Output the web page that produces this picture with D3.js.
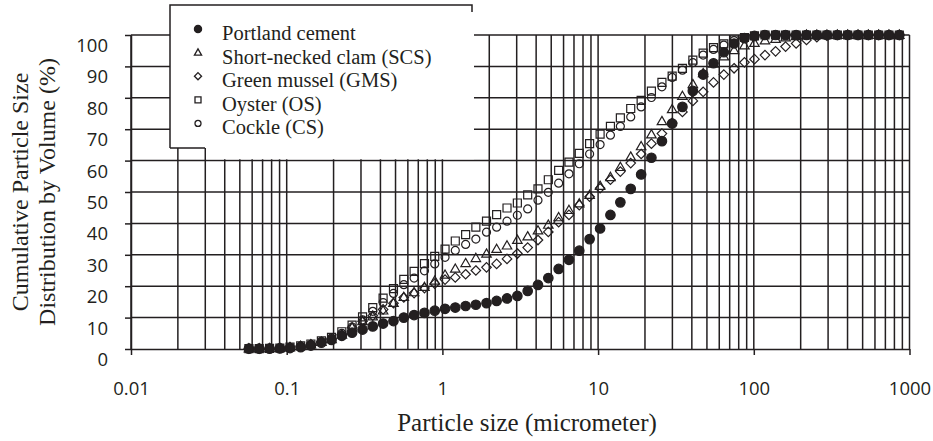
<!DOCTYPE html>
<html>
<head>
<meta charset="utf-8">
<script src="https://cdn.jsdelivr.net/npm/d3@7"></script>
<style>
body{margin:0;background:#fff;}
svg text{fill:#231f20;}
.tick-label{font-family:"Open Sans",sans-serif;font-size:18.5px;}
.serif{font-family:"Liberation Serif","Times New Roman",serif;}
</style>
</head>
<body>
<div id="chart"></div>
<script>
// particle size bins (micrometer)
var sizes = [0.0572, 0.0666, 0.0776, 0.0904, 0.105, 0.123, 0.143, 0.167, 0.194, 0.226,
	0.263, 0.307, 0.357, 0.416, 0.485, 0.565, 0.658, 0.767, 0.893, 1.04,
	1.21, 1.41, 1.64, 1.92, 2.23, 2.60, 3.03, 3.53, 4.11, 4.79,
	5.58, 6.50, 7.57, 8.82, 10.3, 12.0, 13.9, 16.2, 18.9, 22.0,
	25.7, 29.9, 34.8, 40.6, 47.3, 55.1, 64.2, 74.7, 87.1, 101,
	118, 138, 160, 187, 218, 254, 295, 344, 401, 467,
	544, 634, 738, 860];

// cumulative volume (%)
var portland = [0.1, 0.1, 0.1, 0.2, 0.3, 0.6, 1.1, 2.0, 2.9, 4.2,
	5.2, 6.2, 7.2, 8.1, 8.9, 10.0, 10.8, 11.5, 12.2, 12.8,
	13.2, 13.7, 14.1, 14.6, 15.3, 16.1, 16.9, 18.5, 20.4, 22.6,
	25.5, 28.4, 31.3, 35.0, 38.4, 42.7, 46.7, 51.0, 55.6, 60.9,
	66.2, 71.8, 77.1, 82.2, 87.4, 91.0, 94.5, 97.3, 99.0, 99.7,
	100, 100, 100, 100, 100, 100, 100, 100, 100, 100,
	100, 100, 100, 100];
var scs = [0.1, 0.1, 0.2, 0.3, 0.5, 0.9, 1.4, 2.2, 3.1, 4.5,
	6.8, 8.8, 10.3, 12.2, 14.6, 16.5, 18.0, 19.7, 21.7, 23.6,
	25.5, 27.3, 28.9, 30.3, 31.8, 32.9, 34.7, 35.8, 37.7, 39.5,
	41.9, 44.2, 46.3, 49.0, 51.9, 54.7, 57.9, 61.2, 64.5, 68.3,
	72.5, 76.3, 80.5, 84.3, 87.8, 90.8, 93.1, 95.1, 96.6, 97.4,
	98.2, 98.7, 99.2, 99.6, 100, 100, 100, 100, 100, 100,
	100, 100, 100, 100];
var gms = [0.1, 0.1, 0.2, 0.3, 0.5, 0.9, 1.4, 2.2, 3.2, 4.6,
	6.8, 8.8, 10.6, 12.6, 14.6, 16.4, 17.8, 19.4, 20.8, 22.1,
	22.8, 23.8, 25.0, 26.0, 27.1, 28.7, 30.4, 32.3, 34.7, 37.3,
	40.4, 42.7, 45.8, 48.5, 51.2, 53.9, 56.5, 59.2, 62.1, 65.4,
	68.6, 72.0, 75.5, 79.0, 81.9, 84.9, 87.4, 89.4, 91.3, 92.3,
	93.6, 94.8, 96.3, 97.3, 98.4, 99.3, 99.8, 100, 100, 100,
	100, 100, 100, 100];
var os = [0.1, 0.1, 0.2, 0.3, 0.6, 1.0, 1.6, 2.6, 3.7, 5.5,
	7.6, 10.2, 13.2, 16.2, 19.2, 22.2, 24.7, 27.2, 29.5, 31.8,
	34.4, 36.4, 38.8, 40.7, 42.8, 44.9, 46.5, 49.1, 51.0, 53.9,
	56.9, 59.5, 62.3, 65.4, 68.4, 70.9, 73.6, 76.6, 79.2, 82.1,
	84.9, 86.9, 89.4, 92.0, 94.2, 96.0, 97.2, 98.4, 99.2, 99.7,
	100, 100, 100, 100, 100, 100, 100, 100, 100, 100,
	100, 100, 100, 100];
var cs = [0.1, 0.1, 0.2, 0.3, 0.5, 0.9, 1.5, 2.4, 3.5, 5.0,
	7.0, 9.3, 12.0, 14.8, 17.7, 20.5, 22.6, 24.9, 27.1, 29.2,
	31.4, 33.3, 35.0, 37.2, 38.8, 40.7, 42.6, 44.6, 47.4, 49.9,
	52.8, 55.8, 59.0, 62.1, 65.1, 68.1, 70.9, 73.9, 77.1, 80.1,
	83.5, 86.5, 88.8, 91.2, 93.6, 95.4, 96.8, 98.2, 98.9, 99.5,
	100, 100, 100, 100, 100, 100, 100, 100, 100, 100,
	100, 100, 100, 100];

var seriesNames = ["Portland cement", "Short-necked clam (SCS)", "Green mussel (GMS)", "Oyster (OS)", "Cockle (CS)"];
var xLabels = [0.01, 0.1, 1, 10, 100, 1000];
var yLabels = [0, 10, 20, 30, 40, 50, 60, 70, 80, 90, 100];

var ink = "#231f20";
var svg = d3.select("#chart").append("svg").attr("width", 933).attr("height", 441);

var x = d3.scaleLog().domain([0.01, 1000]).range([131, 909.5]);
var y = d3.scaleLinear().domain([0, 100]).range([349, 35]);

// symbolos proprios (size = lado / diametro)
var symCircle = {draw: function(c, s){ var r = s / 2; c.moveTo(r, 0); c.arc(0, 0, r, 0, 2 * Math.PI); }};
var symSquare = {draw: function(c, s){ c.rect(-s / 2, -s / 2, s, s); }};
var symDiamond = {draw: function(c, s){ var r = s / 2; c.moveTo(0, -r); c.lineTo(r, 0); c.lineTo(0, r); c.lineTo(-r, 0); c.closePath(); }};
var symTriangle = {draw: function(c, s){ var h = s * 0.866; c.moveTo(0, -h * 0.6); c.lineTo(s / 2, h * 0.4); c.lineTo(-s / 2, h * 0.4); c.closePath(); }};

var series = [
	{name: seriesNames[0], values: portland, type: symCircle, size: 9.5, fill: ink},
	{name: seriesNames[1], values: scs, type: symTriangle, size: 9.5, fill: "none"},
	{name: seriesNames[2], values: gms, type: symDiamond, size: 9.5, fill: "none"},
	{name: seriesNames[3], values: os, type: symSquare, size: 8, fill: "none"},
	{name: seriesNames[4], values: cs, type: symCircle, size: 8, fill: "none"}
];

// grade
var grid = svg.append("g").attr("stroke", ink).attr("stroke-width", 1.5);
grid.selectAll(".vgrid").data(x.ticks()).enter()
	.append("line").attr("class", "vgrid")
	.attr("x1", function(d){ return x(d); }).attr("x2", function(d){ return x(d); })
	.attr("y1", y(100)).attr("y2", y(0));
grid.selectAll(".hgrid").data(yLabels.slice(1)).enter()
	.append("line").attr("class", "hgrid")
	.attr("x1", x(0.01)).attr("x2", x(1000))
	.attr("y1", function(d){ return y(d); }).attr("y2", function(d){ return y(d); });

// eixos
var xAxis = svg.append("g").attr("transform", "translate(0," + y(0) + ")")
	.call(d3.axisBottom(x).tickValues(xLabels).tickFormat(d3.format("~g")).tickSizeInner(6).tickSizeOuter(0));
xAxis.select(".domain").attr("stroke", ink).attr("stroke-width", 1.5);
xAxis.selectAll(".tick line").attr("stroke", ink).attr("stroke-width", 1.5);
xAxis.selectAll(".tick text").attr("class", "tick-label").attr("y", 46).attr("dy", 0);

var yAxis = svg.append("g").attr("transform", "translate(" + x(0.01) + ",0)")
	.call(d3.axisLeft(y).tickValues(yLabels).tickSizeInner(6).tickSizeOuter(0));
yAxis.select(".domain").attr("stroke", ink).attr("stroke-width", 1.5);
yAxis.selectAll(".tick line").attr("stroke", ink).attr("stroke-width", 1.5);
yAxis.selectAll(".tick text").attr("class", "tick-label").attr("x", -23).attr("dy", 0).attr("y", 16.5);
xAxis.attr("font-size", null).attr("font-family", null);
yAxis.attr("font-size", null).attr("font-family", null);

// legenda (fundo branco cobre a grade)
var legend = svg.append("g");
legend.append("path").attr("d", "M170,5H474V159.2H206V148H170Z").attr("fill", "#fff");
legend.append("path").attr("d", "M170,148V5H472V12M170,148H205").attr("fill", "none").attr("stroke", ink).attr("stroke-width", 1.5);
var rows = legend.selectAll(".leg").data(series).enter().append("g").attr("class", "leg")
	.attr("transform", function(d, i){ return "translate(0," + (40 + i * 23.6) + ")"; });
rows.append("path")
	.attr("transform", "translate(198,-11)")
	.attr("d", function(d){ return d3.symbol().type(d.type).size(d.size * 0.75)(); })
	.attr("fill", function(d){ return d.fill; })
	.attr("stroke", ink).attr("stroke-width", 1.3);
rows.append("text").attr("class", "serif").attr("x", 222).attr("font-size", 20.5)
	.text(function(d){ return d.name; });

// pontos
var order = [3, 4, 1, 2, 0];
var marks = svg.append("g");
order.forEach(function(k){
	var s = series[k];
	marks.append("g").selectAll("path").data(s.values).enter()
		.append("path")
		.attr("transform", function(d, i){ return "translate(" + x(sizes[i]) + "," + y(d) + ")"; })
		.attr("d", d3.symbol().type(s.type).size(s.size))
		.attr("fill", s.fill)
		.attr("stroke", ink).attr("stroke-width", 1.2);
});

// titulos
svg.append("text").attr("class", "serif").attr("font-size", 25)
	.attr("x", 527).attr("y", 431).attr("text-anchor", "middle")
	.text("Particle size (micrometer)");
var yt = svg.append("g").attr("transform", "translate(28," + 192 + ") rotate(-90)");
yt.append("text").attr("class", "serif").attr("font-size", 24).attr("text-anchor", "middle")
	.text("Cumulative Particle Size");
yt.append("text").attr("class", "serif").attr("font-size", 24).attr("text-anchor", "middle")
	.attr("y", 27).text("Distribution by Volume (%)");
</script>
</body>
</html>
